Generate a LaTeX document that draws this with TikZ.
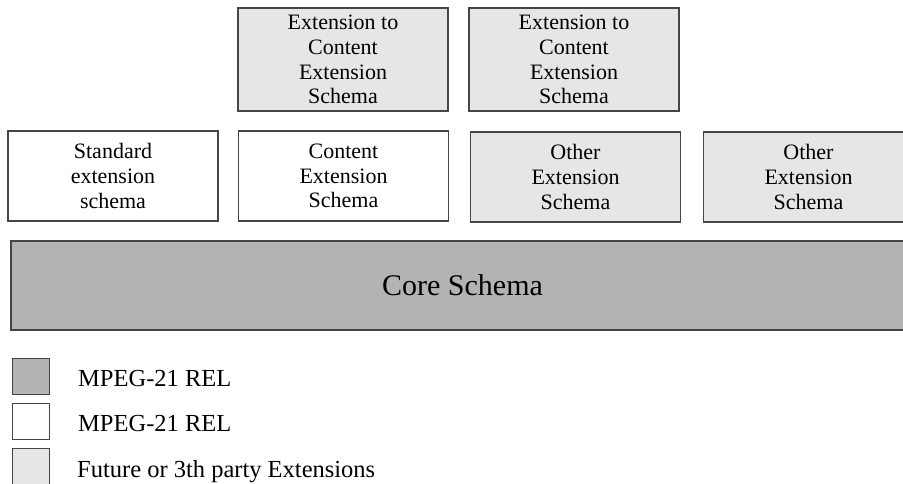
\documentclass[tikz,border=0pt]{standalone}
\usepackage{fontspec}
\setmainfont{Liberation Serif}
\definecolor{extgray}{HTML}{E6E6E6}
\definecolor{coregray}{HTML}{B3B3B3}
\definecolor{edgegray}{HTML}{454545}
\begin{document}
\begin{tikzpicture}[x=1pt,y=-1pt,
  schemabox/.style={draw=edgegray, line width=1.2pt, rectangle, inner sep=0pt,
    align=center, font=\fontsize{22}{24.8}\selectfont},
  upperbox/.style={schemabox, minimum width=210pt, minimum height=103pt},
  lowerbox/.style={schemabox, minimum width=210pt, minimum height=90pt},
  keybox/.style={draw=edgegray, line width=1pt, rectangle, inner sep=0pt,
    minimum width=37pt, minimum height=36pt},
  keytext/.style={anchor=base west, inner sep=0pt, font=\fontsize{24.5}{28}\selectfont}]
\useasboundingbox (0,0) rectangle (903,484);
\clip (0,0) rectangle (903,484);

% extensions built on the content extension schema
\node[upperbox, fill=extgray] (extA) at (343,59.5) {Extension to\\Content\\Extension\\Schema};
\node[upperbox, fill=extgray] (extB) at (574,59.5) {Extension to\\Content\\Extension\\Schema};

% extension schemas directly on the core
\node[lowerbox, fill=white] (std) at (113,176) {Standard\\extension\\schema};
\node[lowerbox, fill=white] (cont) at (343.5,176) {Content\\Extension\\Schema};
\node[lowerbox, fill=extgray] (otherA) at (575.5,177) {Other\\Extension\\Schema};
\node[lowerbox, fill=extgray] (otherB) at (808.5,177) {Other\\Extension\\Schema};

% core schema
\node[schemabox, fill=coregray, minimum width=903pt, minimum height=89pt,
  font=\fontsize{30}{34}\selectfont] (core) at (462.5,285.5) {Core Schema};

% legend
\node[keybox, fill=coregray] (keyA) at (30.5,376) {};
\node[keybox, fill=white] (keyB) at (30.5,421.5) {};
\node[keybox, fill=extgray] (keyC) at (30.5,466.5) {};
\node[keytext] (labA) at (78,386) {MPEG-21 REL};
\node[keytext] (labB) at (78,431) {MPEG-21 REL};
\node[keytext] (labC) at (77,477) {Future or 3th party Extensions};
\end{tikzpicture}
\end{document}
